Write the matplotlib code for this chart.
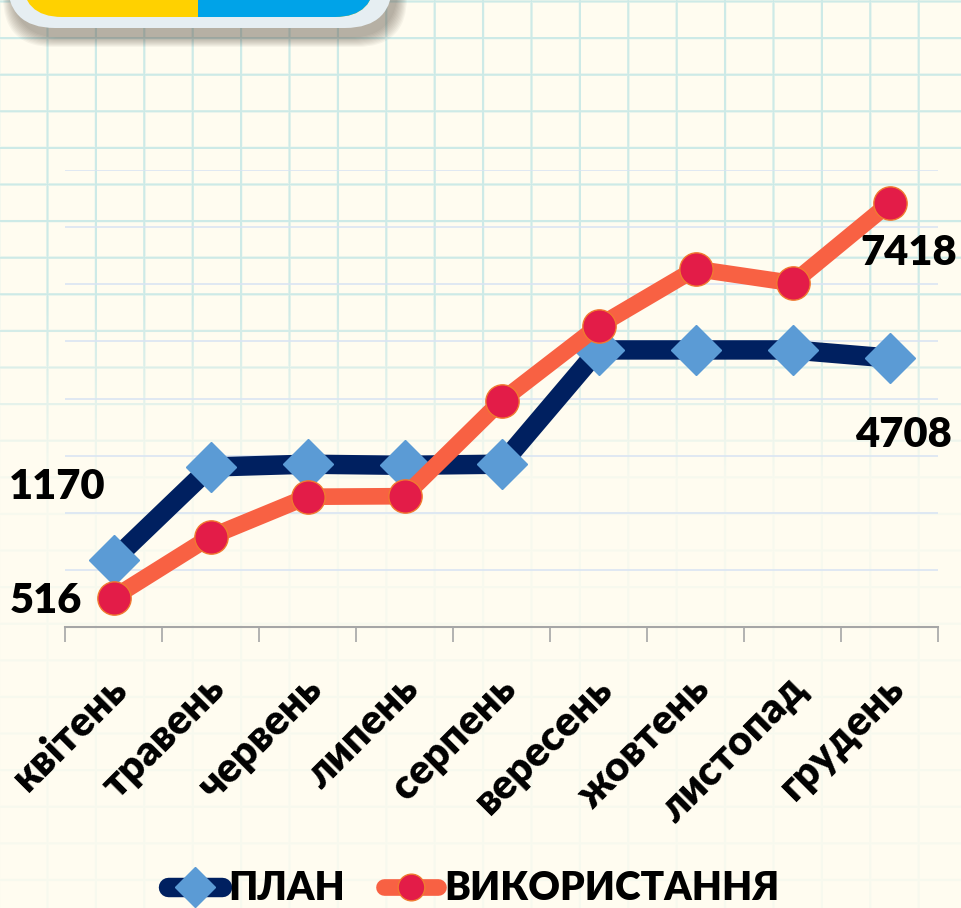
import numpy as np
import matplotlib
matplotlib.use("Agg")
import matplotlib.pyplot as plt
import matplotlib.transforms as mtransforms
from matplotlib.patches import FancyBboxPatch, Rectangle

months = ["квітень", "травень", "червень", "липень", "серпень",
          "вересень", "жовтень", "листопад", "грудень"]
plan = [1170, 2800, 2850, 2830, 2850, 4850, 4850, 4850, 4708]
used = [516, 1580, 2280, 2290, 3960, 5270, 6270, 6020, 7418]

NAVY = "#002060"
DIAMOND = "#5B9BD5"
CORAL = "#F86143"
RED = "#E31C48"

plt.rcParams["font.family"] = ["Lato", "DejaVu Sans"]
plt.rcParams["font.weight"] = "heavy"

W, H = 961, 908
fig = plt.figure(figsize=(W / 100, H / 100), dpi=100)

# squared paper background, fading out towards the bottom
bg = fig.add_axes([0, 0, 1, 1])
bg.set_xlim(0, W)
bg.set_ylim(H, 0)
bg.axis("off")
yy, xx = np.mgrid[0:H, 0:W]
cream = np.array([255, 252, 240]) / 255
paper_line = np.array([205, 234, 231]) / 255
dx = np.abs(((xx - 47 + 24.2) % 48.4) - 24.2)
dy = np.abs(((yy - 1 + 18.3) % 36.6) - 18.3)
on = np.clip(1.6 - np.minimum(dx, dy), 0, 1)
fade = np.interp(yy, [0, 300, 480, H], [1, 1, 0.15, 0.15])
a = (on * fade)[..., None]
img = cream * (1 - a) + paper_line * a
bg.imshow(img, extent=(0, W, H, 0), aspect="auto", interpolation="bilinear")

# flag banner peeking in at the top
for i in range(10):
    bg.add_patch(FancyBboxPatch((12 - i, -90), 386 + 2 * i, 128 + i,
                                boxstyle="round,pad=0,rounding_size=50",
                                fc=(0.35, 0.3, 0.25), ec="none", alpha=0.05))
bg.add_patch(FancyBboxPatch((7, -90), 386, 118, boxstyle="round,pad=0,rounding_size=48",
                            fc="#E6EEF2", ec="none"))
bg.add_patch(FancyBboxPatch((22, -90), 353, 107, boxstyle="round,pad=0,rounding_size=40",
                            fc="#FFD100", ec="none"))
blue = FancyBboxPatch((22, -90), 353, 107, boxstyle="round,pad=0,rounding_size=40",
                      fc="#00A3E8", ec="none")
bg.add_patch(blue)
clip = Rectangle((198, -100), 300, 200, transform=bg.transData)
blue.set_clip_path(clip)

# chart
ax = fig.add_axes([65 / W, 1 - 627 / H, (938 - 65) / W, (627 - 170) / H])
ax.patch.set_alpha(0)
x = np.arange(len(months))
ax.plot(x, plan, color=NAVY, lw=14, marker="D", ms=25, mfc=DIAMOND, mec=DIAMOND,
        solid_joinstyle="round", solid_capstyle="round", label="ПЛАН", zorder=3)
ax.plot(x, used, color=CORAL, lw=12, marker="o", ms=24, mfc=RED, mec="#F07A30", mew=1,
        solid_joinstyle="round", solid_capstyle="round", label="ВИКОРИСТАННЯ", zorder=4)

ax.set_xlim(-0.5, 8.5)
ax.set_ylim(0, 8000)
ax.set_yticks(range(1000, 8001, 1000))
ax.tick_params(axis="y", length=0, labelleft=False)
ax.yaxis.grid(True, color="#DAE5F3", lw=1.2)
ax.set_axisbelow(True)
for s in ["top", "right", "left"]:
    ax.spines[s].set_visible(False)
ax.spines["bottom"].set_color("#A6A6A6")
ax.spines["bottom"].set_linewidth(1.5)

ax.set_xticks(x)
ax.set_xticklabels(months, rotation=45, ha="right", va="center",
                   rotation_mode="anchor", fontsize=30)
ax.set_xticks(np.arange(-0.5, 9), minor=True)
ax.tick_params(axis="x", which="major", length=0, pad=40)
ax.tick_params(axis="x", which="minor", length=11, width=1.2, color="#A6A6A6")
shift = mtransforms.ScaledTranslation(8 / 100, 0, fig.dpi_scale_trans)
for lab in ax.get_xticklabels():
    lab.set_transform(lab.get_transform() + shift)

# data labels for first and last points
lab_kw = dict(textcoords="offset pixels", ha="center", va="center", fontsize=30,
              color="black", annotation_clip=False)
ax.annotate(f"{plan[0]}", (0, plan[0]), xytext=(-56, 73), **lab_kw)
ax.annotate(f"{used[0]}", (0, used[0]), xytext=(-68, -3), **lab_kw)
ax.annotate(f"{used[-1]}", (8, used[-1]), xytext=(19, -50), **lab_kw)
ax.annotate(f"{plan[-1]}", (8, plan[-1]), xytext=(14, -77), **lab_kw)

fig.legend(loc="center", bbox_to_anchor=(0.493, 1 - 889 / H), ncol=2, frameon=False,
           fontsize=28, handlelength=1.4, handletextpad=0.15, columnspacing=1.0,
           markerscale=0.8)

fig.savefig("out.png", dpi=100)
